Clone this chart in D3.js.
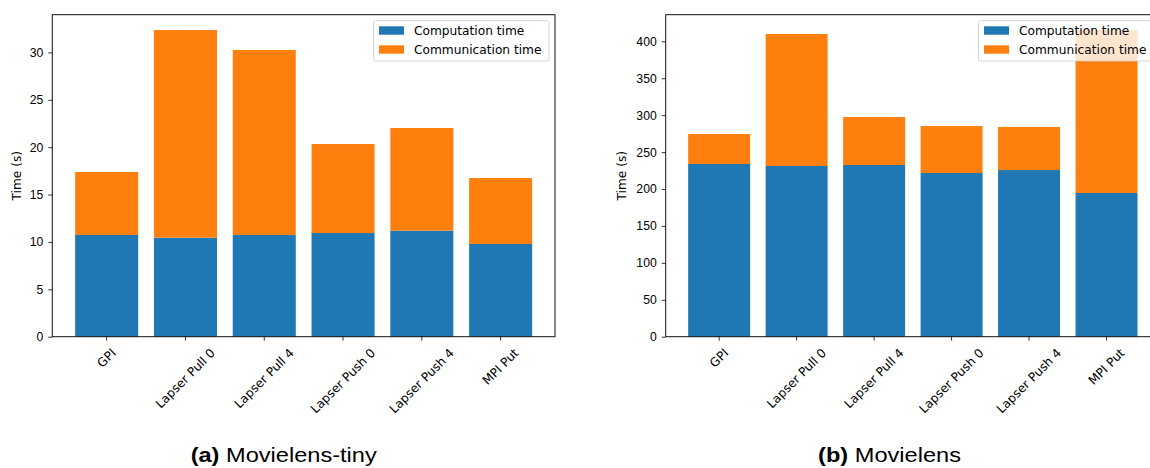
<!DOCTYPE html>
<html lang="en">
<head>
<meta charset="UTF-8">
<title>Computation and communication time</title>
<style>
  body { margin: 0; background: #fff; }
  svg { display: block; font-family: "DejaVu Sans", sans-serif; }
  .lbl { font-size: 12.2px; fill: #000; }
  .caption { font-family: "Liberation Sans", Arial, sans-serif; font-size: 20px; fill: #000; white-space: pre; }
</style>
</head>
<body>
<div id="chart"></div>
<script src="https://cdnjs.cloudflare.com/ajax/libs/d3/7.8.5/d3.min.js"></script>
<script>
// data
var categories = ["GPI", "Lapser Pull 0", "Lapser Pull 4", "Lapser Push 0", "Lapser Push 4", "MPI Put"];
var seriesNames = ["Computation time", "Communication time"];
var tinyCompute = [10.73, 10.45, 10.73, 10.94, 11.19, 9.78];
var tinyComm = [6.65, 21.91, 19.52, 9.39, 10.83, 6.96];
var fullCompute = [233.9, 231.2, 232.5, 221.7, 225.7, 194.6];
var fullComm = [40.6, 178.7, 65.0, 63.6, 58.3, 220.7];
var colors = ["#1f77b4", "#ff7f0e"];

var width = 1150, height = 468;

var svg = d3.select("#chart").append("svg")
    .attr("width", width)
    .attr("height", height);

drawPanel({
    compute: tinyCompute, comm: tinyComm,
    left: 52.3, right: 555, top: 14.7, bottom: 336.7,
    ylabelX: 16.7, captionX: 283.7,
    tag: "(a)", title: " Movielens-tiny"
});
// the right panel runs past the edge of the picture, as in the original
drawPanel({
    compute: fullCompute, comm: fullComm,
    left: 665.7, right: 1160, top: 14.7, bottom: 336.7,
    ylabelX: 621.5, captionX: 889.5,
    tag: "(b)", title: " Movielens"
});

function drawPanel(p) {
    var rows = categories.map((c, i) => ({ name: c, compute: p.compute[i], comm: p.comm[i] }));
    var stacked = d3.stack().keys(["compute", "comm"])(rows);
    var maxTotal = d3.max(rows, d => d.compute + d.comm);

    // matplotlib style margins: bars of width 0.8, 5% padding
    var pad = 0.4 + 0.05 * (categories.length - 1 + 0.8);
    var x = d3.scaleLinear()
        .domain([-pad, categories.length - 1 + pad])
        .range([p.left, p.right]);
    var y = d3.scaleLinear()
        .domain([0, maxTotal * 1.05])
        .range([p.bottom, p.top]);

    var g = svg.append("g");

    g.selectAll(".layer")
        .data(stacked)
        .enter().append("g")
        .attr("class", "layer")
        .attr("fill", (d, i) => colors[i])
        .selectAll("rect")
        .data(d => d)
        .enter().append("rect")
        .attr("x", (d, i) => x(i - 0.4))
        .attr("width", (d, i) => x(i + 0.4) - x(i - 0.4))
        .attr("y", d => y(d[1]))
        .attr("height", d => y(d[0]) - y(d[1]));

    // y axis
    var yAxis = g.append("g")
        .attr("transform", "translate(" + p.left + ",0)")
        .call(d3.axisLeft(y).ticks(8).tickSize(4).tickPadding(5));
    yAxis.select(".domain").remove();
    yAxis.selectAll("line").attr("stroke", "#000").attr("stroke-width", 0.8);
    yAxis.selectAll("text").attr("class", "lbl").attr("font-family", null).attr("font-size", null);

    // x ticks and rotated labels
    var fs = 12.2;
    categories.forEach((c, i) => {
        g.append("line")
            .attr("x1", x(i)).attr("x2", x(i))
            .attr("y1", p.bottom).attr("y2", p.bottom + 4)
            .attr("stroke", "#000").attr("stroke-width", 0.8);
        var t = g.append("text")
            .attr("class", "lbl")
            .attr("text-anchor", "middle")
            .attr("dominant-baseline", "central")
            .text(c);
        var w = t.node().getComputedTextLength();
        var cy = p.bottom + 9.5 + (w + fs * 1.1) / (2 * Math.SQRT2);
        t.attr("transform", "translate(" + x(i) + "," + cy + ") rotate(-45)");
    });

    // frame
    g.append("rect")
        .attr("x", p.left).attr("y", p.top)
        .attr("width", p.right - p.left).attr("height", p.bottom - p.top)
        .attr("fill", "none")
        .attr("stroke", "#111")
        .attr("stroke-width", 1);

    g.append("text")
        .attr("class", "lbl")
        .attr("text-anchor", "middle")
        .attr("dominant-baseline", "central")
        .attr("transform", "translate(" + p.ylabelX + "," + (p.top + p.bottom) / 2 + ") rotate(-90)")
        .text("Time (s)");

    // legend, upper right
    var lw = 175.5, lh = 40.3;
    var legend = g.append("g")
        .attr("transform", "translate(" + (p.right - 6 - lw) + "," + (p.top + 6) + ")");
    legend.append("rect")
        .attr("width", lw).attr("height", lh)
        .attr("rx", 2)
        .attr("fill", "#fff").attr("fill-opacity", 0.8)
        .attr("stroke", "#ccc").attr("stroke-opacity", 0.8);
    seriesNames.forEach((s, i) => {
        legend.append("rect")
            .attr("x", 5.5).attr("y", 5.6 + i * 19)
            .attr("width", 25).attr("height", 8.4)
            .attr("fill", colors[i]);
        legend.append("text")
            .attr("class", "lbl")
            .attr("x", 40.5).attr("y", 14.3 + i * 19)
            .text(s);
    });

    // caption under the panel
    var cap = svg.append("text")
        .attr("class", "caption")
        .attr("text-anchor", "middle")
        .attr("transform", "translate(" + p.captionX + ",461.5) scale(1.18,1)");
    cap.append("tspan").attr("font-weight", "bold").text(p.tag);
    cap.append("tspan").text(p.title);
}
</script>
</body>
</html>
